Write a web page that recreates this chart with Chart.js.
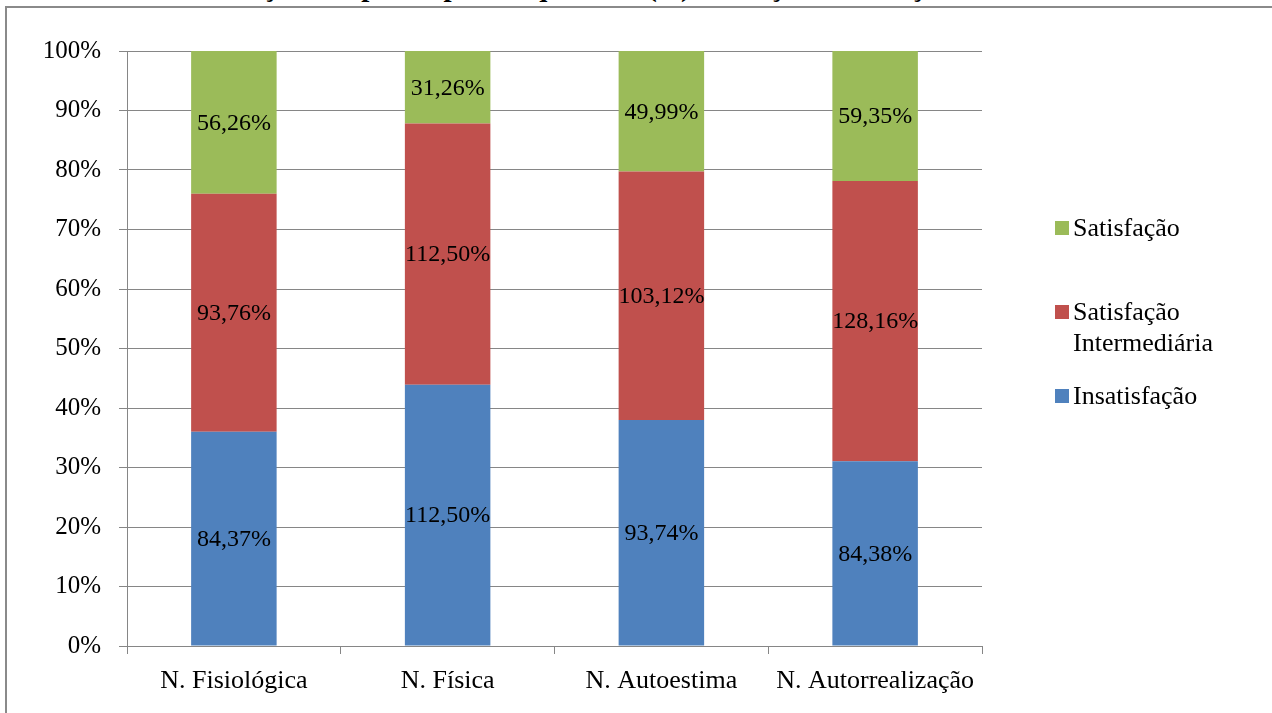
<!DOCTYPE html>
<html lang="pt">
<head>
<meta charset="utf-8">
<title>Satisfação por necessidade</title>
<script src="https://cdn.jsdelivr.net/npm/chart.js@4.4.0/dist/chart.umd.min.js"></script>
<style>
  html, body { margin: 0; padding: 0; background: #fff; overflow: hidden; }
  #wrap { position: relative; width: 1272px; height: 713px; overflow: hidden; }
  #title {
    position: absolute; left: 6px; top: -30px; white-space: nowrap; line-height: 30px;
    font: bold 29px "Liberation Serif", "Times New Roman", serif; color: #000;
  }
  #frame {
    position: absolute; left: 5px; top: 6px; width: 1300px; height: 740px;
    border-left: 2px solid #8a8a8a; border-top: 2px solid #8a8a8a; background: #fff;
  }
  canvas { position: absolute; left: 0; top: 0; }
</style>
</head>
<body>
<div id="wrap">
  <div id="title">Gráfico 4 – Distribuição dos participantes quanto à (in)satisfação em relação ao trabalho</div>
  <div id="frame"></div>
  <canvas id="chart" width="1272" height="713"></canvas>
</div>
<script>
// Categories (needs) and the value of each level of satisfaction
const categories = ['N. Fisiológica', 'N. Física', 'N. Autoestima', 'N. Autorrealização'];
const seriesNames = ['Insatisfação', 'Satisfação Intermediária', 'Satisfação'];
const insatisfacao = [84.37, 112.50, 93.74, 84.38];
const intermediaria = [93.76, 112.50, 103.12, 128.16];
const satisfacao = [56.26, 31.26, 49.99, 59.35];
const yTicks = [0, 10, 20, 30, 40, 50, 60, 70, 80, 90, 100];

const colors = ['#4F81BD', '#C0504D', '#9BBB59'];
const rawSeries = [insatisfacao, intermediaria, satisfacao];
const GRID = '#868686';
const FONT = '"Liberation Serif", "Times New Roman", serif';

// Each column is shown as a 100% stack: share of each value in its column total
const totals = categories.map((_, i) => rawSeries.reduce((s, arr) => s + arr[i], 0));
const shares = rawSeries.map(arr => arr.map((v, i) => v / totals[i] * 100));

const fmt = v => v.toFixed(2).replace('.', ',') + '%';

// Value labels centred in each segment
const segmentLabels = {
  id: 'segmentLabels',
  afterDatasetsDraw(chart) {
    const ctx = chart.ctx;
    ctx.save();
    ctx.font = '24px ' + FONT;
    ctx.fillStyle = '#000';
    ctx.textAlign = 'center';
    ctx.textBaseline = 'middle';
    chart.data.datasets.forEach((ds, di) => {
      const meta = chart.getDatasetMeta(di);
      meta.data.forEach((bar, i) => {
        const p = bar.getProps(['x', 'y', 'base'], true);
        ctx.fillText(fmt(ds.raw[i]), p.x, (p.y + p.base) / 2 + 1);
      });
    });
    ctx.restore();
  }
};

// Legend on the right, top series first, long names wrapped
const sideLegend = {
  id: 'sideLegend',
  afterDraw(chart) {
    const ctx = chart.ctx;
    const x = 1055, box = 14, textX = 1073, lineH = 31, maxW = 170;
    const tops = [221, 305, 389];
    ctx.save();
    ctx.font = '26px ' + FONT;
    ctx.textBaseline = 'alphabetic';
    ctx.textAlign = 'left';
    const items = chart.data.datasets.map((ds, i) => ({ label: ds.label, color: ds.backgroundColor })).reverse();
    items.forEach((it, k) => {
      const top = tops[k];
      ctx.fillStyle = it.color;
      ctx.fillRect(x, top, box, box);
      // wrap words onto lines
      const words = it.label.split(' ');
      const lines = [];
      let cur = '';
      words.forEach(w => {
        const t = cur ? cur + ' ' + w : w;
        if (cur && ctx.measureText(t).width > maxW) { lines.push(cur); cur = w; } else { cur = t; }
      });
      lines.push(cur);
      ctx.fillStyle = '#000';
      lines.forEach((ln, j) => ctx.fillText(ln, textX, top + 15 + j * lineH));
    });
    ctx.restore();
  }
};

new Chart(document.getElementById('chart'), {
  type: 'bar',
  data: {
    labels: categories,
    datasets: seriesNames.map((name, i) => ({
      label: name,
      data: shares[i],
      raw: rawSeries[i],
      backgroundColor: colors[i],
      borderWidth: 0,
      barPercentage: 0.4,
      categoryPercentage: 1.0
    }))
  },
  options: {
    responsive: false,
    animation: false,
    devicePixelRatio: 1,
    layout: { padding: { left: 0, top: 51, right: 290, bottom: 0 } },
    plugins: { legend: { display: false }, tooltip: { enabled: false } },
    scales: {
      x: {
        stacked: true,
        grid: { offset: true, drawOnChartArea: false, drawTicks: true, tickLength: 8, color: GRID, lineWidth: 1 },
        border: { color: GRID, width: 1 },
        ticks: { color: '#000', font: { family: FONT, size: 26 }, padding: 12, maxRotation: 0 },
        afterFit(s) { s.height = 67; }
      },
      y: {
        stacked: true,
        min: 0,
        max: 100,
        afterBuildTicks(s) { s.ticks = yTicks.map(v => ({ value: v })); },
        grid: { color: GRID, lineWidth: 1, tickLength: 8, drawTicks: true },
        border: { color: GRID, width: 1 },
        ticks: { color: '#000', font: { family: FONT, size: 25 }, padding: 18, callback: v => v + '%' },
        afterFit(s) { s.width = 127; }
      }
    }
  },
  plugins: [segmentLabels, sideLegend]
});
</script>
</body>
</html>
